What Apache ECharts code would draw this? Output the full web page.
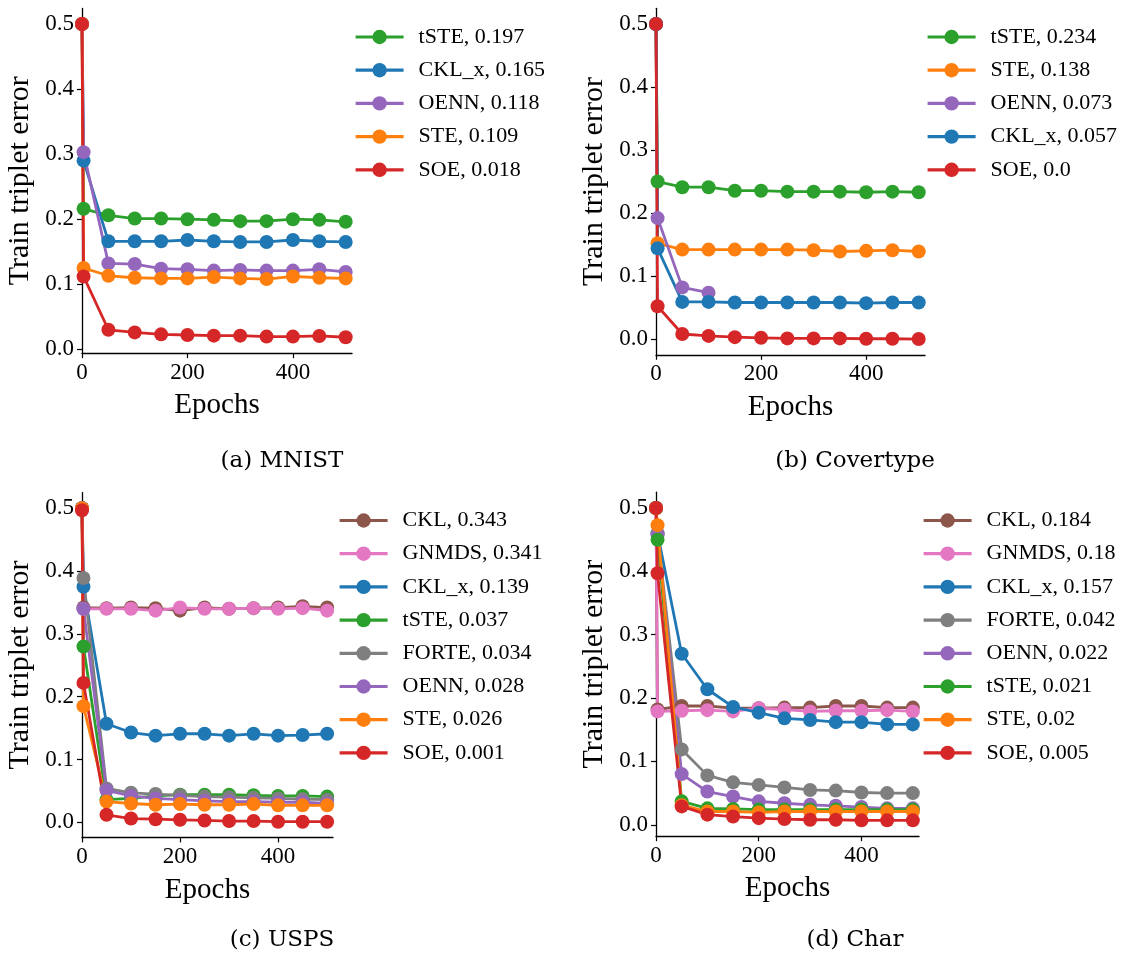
<!DOCTYPE html>
<html>
<head>
<meta charset="utf-8">
<script src="https://cdn.jsdelivr.net/npm/echarts@6/dist/echarts.min.js"></script>
<style>
html,body{margin:0;padding:0;background:#fff;}
#chart{width:1125px;height:960px;}
</style>
</head>
<body>
<div id="chart"></div>
<script>
// ---------------- DATA ----------------
const epochs = [0, 3, 50, 100, 150, 200, 250, 300, 350, 400, 450, 500];
const xTicks = [0, 200, 400];
const yTicks = [0, 0.1, 0.2, 0.3, 0.4, 0.5];

// (a) MNIST
const mnistMethods = ['tSTE', 'CKL_x', 'OENN', 'STE', 'SOE'];
const mnistScores  = ['0.197', '0.165', '0.118', '0.109', '0.018'];
const mnistTSTE  = [0.5, 0.216, 0.206, 0.201, 0.201, 0.200, 0.199, 0.197, 0.197, 0.200, 0.199, 0.196];
const mnistCKLx  = [0.5, 0.290, 0.166, 0.166, 0.166, 0.168, 0.166, 0.165, 0.165, 0.168, 0.166, 0.165];
const mnistOENN  = [0.5, 0.303, 0.132, 0.131, 0.124, 0.123, 0.121, 0.122, 0.121, 0.121, 0.123, 0.119];
const mnistSTE   = [0.5, 0.125, 0.113, 0.110, 0.109, 0.109, 0.111, 0.109, 0.108, 0.112, 0.110, 0.109];
const mnistSOE   = [0.5, 0.112, 0.030, 0.026, 0.023, 0.022, 0.021, 0.021, 0.0195, 0.0195, 0.0205, 0.0185];

// (b) Covertype
const coverMethods = ['tSTE', 'STE', 'OENN', 'CKL_x', 'SOE'];
const coverScores  = ['0.234', '0.138', '0.073', '0.057', '0.0'];
const coverTSTE  = [0.5, 0.250, 0.241, 0.241, 0.2355, 0.2355, 0.234, 0.234, 0.234, 0.233, 0.234, 0.233];
const coverSTE   = [0.5, 0.152, 0.142, 0.142, 0.142, 0.142, 0.142, 0.141, 0.139, 0.140, 0.141, 0.139];
const coverOENN  = [0.5, 0.192, 0.082, 0.0735];
const coverCKLx  = [0.5, 0.144, 0.059, 0.059, 0.058, 0.058, 0.058, 0.058, 0.058, 0.057, 0.058, 0.058];
const coverSOE   = [0.5, 0.052, 0.008, 0.005, 0.003, 0.002, 0.001, 0.001, 0.001, 0.0005, 0.0005, 0.0];

// (c) USPS
const uspsMethods = ['CKL', 'GNMDS', 'CKL_x', 'tSTE', 'FORTE', 'OENN', 'STE', 'SOE'];
const uspsScores  = ['0.343', '0.341', '0.139', '0.037', '0.034', '0.028', '0.026', '0.001'];
const uspsCKL    = [0.5, 0.342, 0.341, 0.342, 0.341, 0.337, 0.342, 0.340, 0.341, 0.342, 0.344, 0.342];
const uspsGNMDS  = [0.5, 0.340, 0.340, 0.340, 0.337, 0.342, 0.340, 0.340, 0.341, 0.340, 0.341, 0.337];
const uspsCKLx   = [0.5, 0.375, 0.157, 0.143, 0.138, 0.141, 0.141, 0.138, 0.141, 0.138, 0.139, 0.141];
const uspsTSTE   = [0.5, 0.280, 0.036, 0.038, 0.042, 0.044, 0.044, 0.044, 0.043, 0.042, 0.042, 0.041];
const uspsFORTE  = [0.5, 0.389, 0.054, 0.047, 0.045, 0.043, 0.041, 0.040, 0.039, 0.038, 0.037, 0.036];
const uspsOENN   = [0.5, 0.340, 0.051, 0.042, 0.038, 0.036, 0.034, 0.033, 0.033, 0.032, 0.032, 0.030];
const uspsSTE    = [0.5, 0.185, 0.033, 0.030, 0.028, 0.029, 0.028, 0.028, 0.029, 0.027, 0.027, 0.027];
const uspsSOE    = [0.497, 0.222, 0.012, 0.006, 0.005, 0.004, 0.003, 0.002, 0.002, 0.001, 0.001, 0.001];

// (d) Char
const charMethods = ['CKL', 'GNMDS', 'CKL_x', 'FORTE', 'OENN', 'tSTE', 'STE', 'SOE'];
const charScores  = ['0.184', '0.18', '0.157', '0.042', '0.022', '0.021', '0.02', '0.005'];
const charCKL    = [0.5, 0.182, 0.1875, 0.1875, 0.184, 0.184, 0.185, 0.185, 0.1875, 0.1875, 0.185, 0.185];
const charGNMDS  = [0.5, 0.179, 0.180, 0.181, 0.179, 0.184, 0.182, 0.179, 0.180, 0.180, 0.181, 0.179];
const charCKLx   = [0.5, 0.460, 0.270, 0.214, 0.186, 0.177, 0.168, 0.1655, 0.162, 0.162, 0.1585, 0.1585];
const charFORTE  = [0.5, 0.460, 0.119, 0.078, 0.067, 0.063, 0.059, 0.055, 0.054, 0.051, 0.050, 0.050];
const charOENN   = [0.5, 0.458, 0.080, 0.0525, 0.0446, 0.037, 0.034, 0.0315, 0.030, 0.028, 0.026, 0.026];
const charTSTE   = [0.5, 0.450, 0.037, 0.026, 0.025, 0.024, 0.024, 0.024, 0.024, 0.024, 0.024, 0.024];
const charSTE    = [0.5, 0.473, 0.031, 0.021, 0.021, 0.0195, 0.021, 0.021, 0.021, 0.021, 0.021, 0.021];
const charSOE    = [0.5, 0.397, 0.029, 0.016, 0.013, 0.0105, 0.009, 0.008, 0.008, 0.007, 0.007, 0.007];

const subtitles = ['(a) MNIST', '(b) Covertype', '(c) USPS', '(d) Char'];
const yAxisTitle = 'Train triplet error';
const xAxisTitle = 'Epochs';

// ---------------- STYLE ----------------
const methodColor = {
  'CKL_x': '#1f77b4', 'STE': '#ff7f0e', 'tSTE': '#2ca02c', 'SOE': '#d62728',
  'OENN': '#9467bd', 'CKL': '#8c564b', 'GNMDS': '#e377c2', 'FORTE': '#7f7f7f'
};
const SERIF = 'Liberation Serif';

const panels = [
  { methods: mnistMethods, scores: mnistScores,
    values: [mnistTSTE, mnistCKLx, mnistOENN, mnistSTE, mnistSOE],
    grid: {left: 82, top: 8.4, width: 270, height: 344.8}, ymin: -0.006, ymax: 0.524,
    legend: {left: 349, top: 20}, sub: [282, 461] },
  { methods: coverMethods, scores: coverScores,
    values: [coverTSTE, coverSTE, coverOENN, coverCKLx, coverSOE],
    grid: {left: 656, top: 8.3, width: 269, height: 346.5}, ymin: -0.025, ymax: 0.525,
    legend: {left: 921, top: 20}, sub: [855, 461] },
  { methods: uspsMethods, scores: uspsScores,
    values: [uspsCKL, uspsGNMDS, uspsCKLx, uspsTSTE, uspsFORTE, uspsOENN, uspsSTE, uspsSOE],
    grid: {left: 82, top: 492.6, width: 251, height: 344.8}, ymin: -0.024, ymax: 0.525,
    legend: {left: 333, top: 503.5}, sub: [282, 940] },
  { methods: charMethods, scores: charScores,
    values: [charCKL, charGNMDS, charCKLx, charFORTE, charOENN, charTSTE, charSTE, charSOE],
    grid: {left: 656, top: 492.2, width: 263, height: 344}, ymin: -0.018, ymax: 0.525,
    legend: {left: 917, top: 503.5}, sub: [855, 940] }
];

const grids = [], xAxes = [], yAxes = [], legends = [], series = [], graphics = [];
panels.forEach((p, i) => {
  grids.push(Object.assign({containLabel: false}, p.grid));
  xAxes.push({
    type: 'value', gridIndex: i, min: 0, max: 512,
    name: xAxisTitle, nameLocation: 'middle', nameGap: 38,
    nameTextStyle: {fontFamily: SERIF, fontSize: 29, color: '#000'},
    axisLine: {show: true, onZero: false, lineStyle: {color: '#000', width: 1.3}},
    axisTick: {show: true, length: 5, lineStyle: {color: '#000', width: 1.2}, customValues: xTicks},
    axisLabel: {fontFamily: SERIF, fontSize: 23, color: '#000', margin: 8, customValues: xTicks,
      formatter: v => String(v)},
    splitLine: {show: false}
  });
  yAxes.push({
    type: 'value', gridIndex: i, min: p.ymin, max: p.ymax,
    name: yAxisTitle, nameLocation: 'middle', nameGap: 47,
    nameTextStyle: {fontFamily: SERIF, fontSize: 30, color: '#000'},
    axisLine: {show: true, onZero: false, lineStyle: {color: '#000', width: 1.3}},
    axisTick: {show: true, length: 5, lineStyle: {color: '#000', width: 1.2}, customValues: yTicks},
    axisLabel: {fontFamily: SERIF, fontSize: 23, color: '#000', margin: 8, customValues: yTicks,
      formatter: v => v.toFixed(1)},
    splitLine: {show: false}
  });
  const names = p.methods.map((m, k) => m + ', ' + p.scores[k]);
  legends.push({
    orient: 'vertical', left: p.legend.left, top: p.legend.top,
    data: names, itemWidth: 48, itemHeight: 18, itemGap: 9.2,
    lineStyle: {width: 3.2},
    textStyle: {fontFamily: SERIF, fontSize: 22, color: '#000', lineHeight: 24, padding: [0, 0, 0, 10]},
    selectedMode: false
  });
  p.methods.forEach((m, k) => {
    const vals = p.values[k];
    series.push({
      type: 'line', name: names[k], xAxisIndex: i, yAxisIndex: i,
      data: vals.map((v, j) => [epochs[j], v]),
      symbol: 'circle', symbolSize: 14, clip: false,
      lineStyle: {width: 2.8, color: methodColor[m]},
      itemStyle: {color: methodColor[m]},
      emphasis: {disabled: true}, animation: false
    });
  });
  graphics.push({
    type: 'text', x: p.sub[0], y: p.sub[1],
    style: {text: subtitles[i], textAlign: 'center', textVerticalAlign: 'middle',
      font: '23px "DejaVu Serif"', fill: '#000'}
  });
});

const chart = echarts.init(document.getElementById('chart'), null, {renderer: 'canvas'});
chart.setOption({
  animation: false,
  backgroundColor: '#fff',
  grid: grids, xAxis: xAxes, yAxis: yAxes, legend: legends, series: series,
  graphic: graphics
});
</script>
</body>
</html>
